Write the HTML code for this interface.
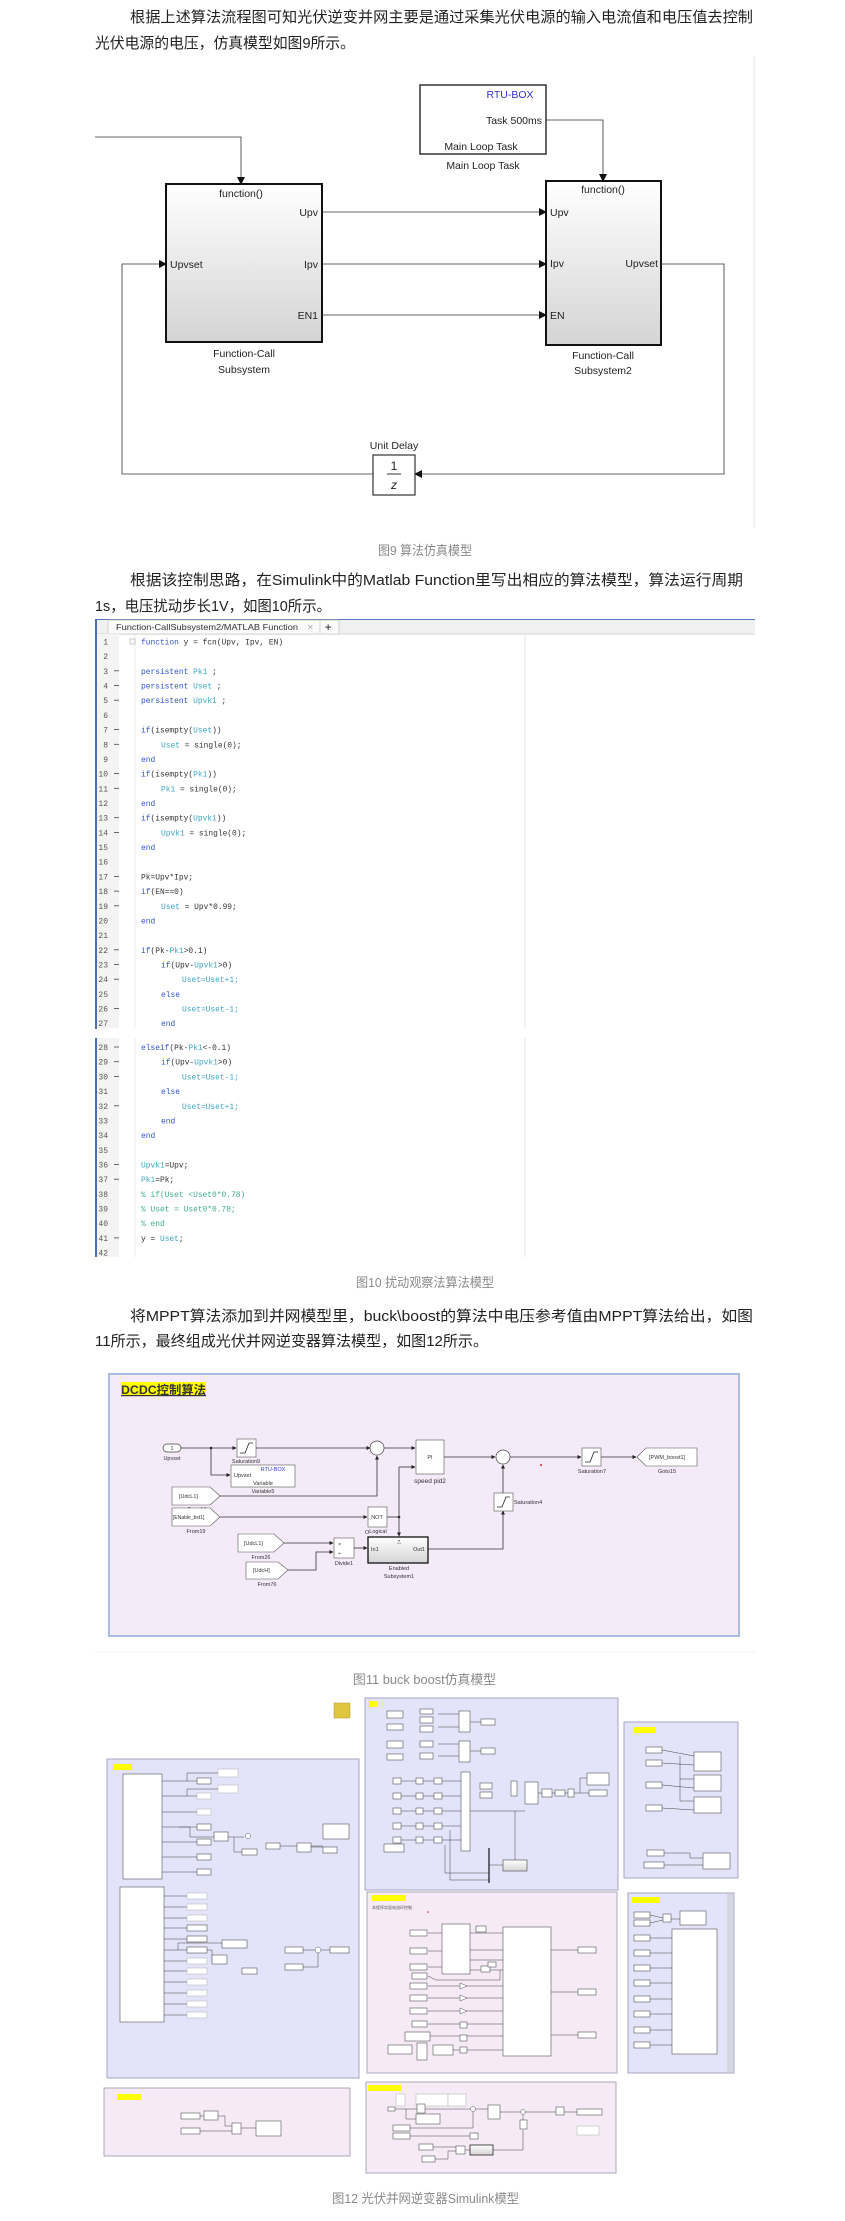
<!DOCTYPE html>
<html><head><meta charset="utf-8"><style>
html,body{margin:0;padding:0;background:#fff;}
svg{display:block;}
.t{font-family:"Liberation Sans","Noto Sans CJK SC",sans-serif;fill:#222;font-size:15px;}
.cap{font-family:"Liberation Sans","Noto Sans CJK SC",sans-serif;fill:#8a8a8a;font-size:13px;}
.s{font-family:"Liberation Sans",sans-serif;fill:#222;font-size:10.5px;}
.m{font-family:"Liberation Mono","Noto Sans CJK SC",monospace;font-size:7.9px;fill:#333;}
.n{font-family:"Liberation Mono",monospace;font-size:8px;fill:#555;}
.k{fill:#3355cc}.v{fill:#3fa6c6}
.tiny{font-family:"Liberation Sans",sans-serif;font-size:5px;fill:#333;}
.tl{font-family:"Liberation Sans",sans-serif;font-size:3px;fill:#666;}
.ln{stroke:#333;stroke-width:.8;fill:none}
.l2{stroke:#444;stroke-width:.5;fill:none}
.b{fill:#fff;stroke:#555;stroke-width:.6}
.bg{fill:#fff;stroke:#bbb;stroke-width:.6}
</style></head><body>
<svg width="845" height="2221" viewBox="0 0 845 2221" xmlns="http://www.w3.org/2000/svg">
<defs>
<marker id="a" markerWidth="8" markerHeight="8" refX="7" refY="4" orient="auto" markerUnits="userSpaceOnUse"><path d="M0,0 L8,4 L0,8 z" fill="#111"/></marker>
<marker id="s" markerWidth="4" markerHeight="4" refX="3.5" refY="2" orient="auto" markerUnits="userSpaceOnUse"><path d="M0,0 L4,2 L0,4 z" fill="#222"/></marker>
<linearGradient id="g" x1="0" y1="0" x2="0" y2="1"><stop offset="0" stop-color="#fff"/><stop offset="1" stop-color="#d4d4d4"/></linearGradient>
</defs>

<!-- Paragraph 1 -->
<text class="t" x="130" y="22" textLength="623" lengthAdjust="spacingAndGlyphs">根据上述算法流程图可知光伏逆变并网主要是通过采集光伏电源的输入电流值和电压值去控制</text>
<text class="t" x="95" y="48" textLength="260" lengthAdjust="spacingAndGlyphs">光伏电源的电压，仿真模型如图9所示。</text>

<!-- Figure 9 -->
<line x1="754" y1="56" x2="754" y2="528" stroke="#e6e6e6" stroke-width="1"/>
<rect x="420" y="85" width="126" height="69" fill="#fff" stroke="#333" stroke-width="1.5"/>
<text class="s" x="510" y="98" text-anchor="middle" fill="#3333cc" style="fill:#3333cc">RTU-BOX</text>
<text class="s" x="542" y="124" text-anchor="end">Task 500ms</text>
<text class="s" x="481" y="150" text-anchor="middle">Main Loop Task</text>
<text class="s" x="483" y="169" text-anchor="middle">Main Loop Task</text>
<polyline class="ln" points="546,120 603,120 603,181" marker-end="url(#a)"/>
<polyline class="ln" points="95,137 241,137 241,184" marker-end="url(#a)"/>

<rect x="166" y="184" width="156" height="158" fill="url(#g)" stroke="#111" stroke-width="2"/>
<text class="s" x="241" y="197" text-anchor="middle">function()</text>
<text class="s" x="318" y="216" text-anchor="end">Upv</text>
<text class="s" x="318" y="268" text-anchor="end">Ipv</text>
<text class="s" x="318" y="319" text-anchor="end">EN1</text>
<text class="s" x="170" y="268">Upvset</text>
<text class="s" x="244" y="357" text-anchor="middle">Function-Call</text>
<text class="s" x="244" y="373" text-anchor="middle">Subsystem</text>

<rect x="546" y="181" width="115" height="164" fill="url(#g)" stroke="#111" stroke-width="2"/>
<text class="s" x="603" y="193" text-anchor="middle">function()</text>
<text class="s" x="550" y="216">Upv</text>
<text class="s" x="550" y="267">Ipv</text>
<text class="s" x="550" y="319">EN</text>
<text class="s" x="658" y="267" text-anchor="end">Upvset</text>
<text class="s" x="603" y="359" text-anchor="middle">Function-Call</text>
<text class="s" x="603" y="374" text-anchor="middle">Subsystem2</text>

<line class="ln" x1="322" y1="212" x2="546" y2="212" marker-end="url(#a)"/>
<line class="ln" x1="322" y1="264" x2="546" y2="264" marker-end="url(#a)"/>
<line class="ln" x1="322" y1="315" x2="546" y2="315" marker-end="url(#a)"/>
<polyline class="ln" points="661,264 724,264 724,474 415,474" marker-end="url(#a)"/>
<polyline class="ln" points="373,474 122,474 122,264 166,264" marker-end="url(#a)"/>
<rect x="373" y="455" width="42" height="40" fill="#fff" stroke="#333" stroke-width="1.2"/>
<text class="s" x="394" y="470" text-anchor="middle" style="font-size:12px">1</text>
<line x1="387" y1="474" x2="401" y2="474" stroke="#333" stroke-width="1"/>
<text class="s" x="394" y="489" text-anchor="middle" style="font-size:12px;font-style:italic">z</text>
<text class="s" x="394" y="449" text-anchor="middle">Unit Delay</text>
<text class="cap" x="378" y="555" textLength="94" lengthAdjust="spacingAndGlyphs">图9 算法仿真模型</text>

<!-- Paragraph 2 -->
<text class="t" x="130" y="585" textLength="613" lengthAdjust="spacingAndGlyphs">根据该控制思路，在Simulink中的Matlab Function里写出相应的算法模型，算法运行周期</text>
<text class="t" x="95" y="611" textLength="236" lengthAdjust="spacingAndGlyphs">1s，电压扰动步长1V，如图10所示。</text>

<!-- Figure 10 code editor -->
<rect x="95" y="619" width="660" height="15" fill="#f0f0f0"/>
<line x1="95" y1="619.5" x2="755" y2="619.5" stroke="#5577bb" stroke-width="1"/>
<line x1="95" y1="634" x2="755" y2="634" stroke="#ccc" stroke-width=".8"/>
<rect x="108" y="620" width="231" height="14" fill="#fafafa" stroke="#bbb" stroke-width=".6"/>
<text x="116" y="630" style="font-family:'Liberation Sans',sans-serif;font-size:8.5px;fill:#333" textLength="182" lengthAdjust="spacingAndGlyphs">Function-CallSubsystem2/MATLAB Function</text>
<text x="307" y="630" style="font-family:'Liberation Sans',sans-serif;font-size:8px;fill:#aaa">✕</text>
<line x1="320" y1="621" x2="320" y2="633" stroke="#bbb" stroke-width=".6"/>
<text x="325" y="631" style="font-family:'Liberation Sans',sans-serif;font-size:11px;fill:#555;font-weight:bold">+</text>
<rect x="96" y="634" width="23" height="394" fill="#f4f4f4"/>
<rect x="96" y="1038" width="23" height="219" fill="#f4f4f4"/>
<line x1="96" y1="619" x2="96" y2="1029" stroke="#4a6fb0" stroke-width="2"/>
<line x1="96" y1="1038" x2="96" y2="1257" stroke="#4a6fb0" stroke-width="2"/>
<line x1="135" y1="634" x2="135" y2="1028" stroke="#ddd" stroke-width=".6"/>
<line x1="135" y1="1038" x2="135" y2="1257" stroke="#ddd" stroke-width=".6"/>
<line x1="525" y1="634" x2="525" y2="1028" stroke="#e0e0e0" stroke-width=".8"/>
<line x1="525" y1="1038" x2="525" y2="1257" stroke="#e0e0e0" stroke-width=".8"/>
<rect x="130" y="639" width="5" height="5" fill="none" stroke="#999" stroke-width=".5"/>

<g class="n" text-anchor="end">
<text x="108" y="644.5">1</text><text x="108" y="659.2">2</text><text x="108" y="673.9">3</text><text x="108" y="688.5">4</text><text x="108" y="703.2">5</text><text x="108" y="717.9">6</text><text x="108" y="732.6">7</text><text x="108" y="747.3">8</text><text x="108" y="762">9</text><text x="108" y="776.6">10</text><text x="108" y="791.3">11</text><text x="108" y="806">12</text><text x="108" y="820.7">13</text><text x="108" y="835.4">14</text><text x="108" y="850">15</text><text x="108" y="864.7">16</text><text x="108" y="879.4">17</text><text x="108" y="894.1">18</text><text x="108" y="908.8">19</text><text x="108" y="923.5">20</text><text x="108" y="938.1">21</text><text x="108" y="952.8">22</text><text x="108" y="967.5">23</text><text x="108" y="982.2">24</text><text x="108" y="996.9">25</text><text x="108" y="1011.5">26</text><text x="108" y="1026.2">27</text>
<text x="108" y="1050">28</text><text x="108" y="1064.7">29</text><text x="108" y="1079.4">30</text><text x="108" y="1094.1">31</text><text x="108" y="1108.8">32</text><text x="108" y="1123.5">33</text><text x="108" y="1138.1">34</text><text x="108" y="1152.8">35</text><text x="108" y="1167.5">36</text><text x="108" y="1182.2">37</text><text x="108" y="1196.9">38</text><text x="108" y="1211.6">39</text><text x="108" y="1226.2">40</text><text x="108" y="1240.9">41</text><text x="108" y="1255.6">42</text>
</g>
<g stroke="#444" stroke-width=".8">
<line x1="114" y1="670.8" x2="119" y2="670.8"/><line x1="114" y1="685.5" x2="119" y2="685.5"/><line x1="114" y1="700.2" x2="119" y2="700.2"/><line x1="114" y1="729.6" x2="119" y2="729.6"/><line x1="114" y1="744.3" x2="119" y2="744.3"/><line x1="114" y1="773.6" x2="119" y2="773.6"/><line x1="114" y1="788.3" x2="119" y2="788.3"/><line x1="114" y1="817.7" x2="119" y2="817.7"/><line x1="114" y1="832.4" x2="119" y2="832.4"/><line x1="114" y1="876.4" x2="119" y2="876.4"/><line x1="114" y1="891.1" x2="119" y2="891.1"/><line x1="114" y1="905.8" x2="119" y2="905.8"/><line x1="114" y1="949.8" x2="119" y2="949.8"/><line x1="114" y1="964.5" x2="119" y2="964.5"/><line x1="114" y1="979.2" x2="119" y2="979.2"/><line x1="114" y1="1008.5" x2="119" y2="1008.5"/>
<line x1="114" y1="1047" x2="119" y2="1047"/><line x1="114" y1="1061.7" x2="119" y2="1061.7"/><line x1="114" y1="1076.4" x2="119" y2="1076.4"/><line x1="114" y1="1105.8" x2="119" y2="1105.8"/><line x1="114" y1="1164.5" x2="119" y2="1164.5"/><line x1="114" y1="1179.2" x2="119" y2="1179.2"/><line x1="114" y1="1237.9" x2="119" y2="1237.9"/>
</g>
<g class="m">
<text x="141" y="644.5"><tspan class="k">function</tspan> y = fcn(Upv, Ipv, EN)</text>
<text x="141" y="673.9"><tspan class="k">persistent</tspan> <tspan class="v">Pk1</tspan> ;</text>
<text x="141" y="688.5"><tspan class="k">persistent</tspan> <tspan class="v">Uset</tspan> ;</text>
<text x="141" y="703.2"><tspan class="k">persistent</tspan> <tspan class="v">Upvk1</tspan> ;</text>
<text x="141" y="732.6"><tspan class="k">if</tspan>(isempty(<tspan class="v">Uset</tspan>))</text>
<text x="161" y="747.3"><tspan class="v">Uset</tspan> = single(0);</text>
<text x="141" y="762" class="k">end</text>
<text x="141" y="776.6"><tspan class="k">if</tspan>(isempty(<tspan class="v">Pk1</tspan>))</text>
<text x="161" y="791.3"><tspan class="v">Pk1</tspan> = single(0);</text>
<text x="141" y="806" class="k">end</text>
<text x="141" y="820.7"><tspan class="k">if</tspan>(isempty(<tspan class="v">Upvk1</tspan>))</text>
<text x="161" y="835.4"><tspan class="v">Upvk1</tspan> = single(0);</text>
<text x="141" y="850" class="k">end</text>
<text x="141" y="879.4">Pk=Upv*Ipv;</text>
<text x="141" y="894.1"><tspan class="k">if</tspan>(EN==0)</text>
<text x="161" y="908.8"><tspan class="v">Uset</tspan> = Upv*0.99;</text>
<text x="141" y="923.5" class="k">end</text>
<text x="141" y="952.8"><tspan class="k">if</tspan>(Pk-<tspan class="v">Pk1</tspan>&gt;0.1)</text>
<text x="161" y="967.5"><tspan class="k">if</tspan>(Upv-<tspan class="v">Upvk1</tspan>&gt;0)</text>
<text x="182" y="982.2" class="v">Uset=Uset+1;</text>
<text x="161" y="996.9" class="k">else</text>
<text x="182" y="1011.5" class="v">Uset=Uset-1;</text>
<text x="161" y="1026.2" class="k">end</text>
<text x="141" y="1050"><tspan class="k">elseif</tspan>(Pk-<tspan class="v">Pk1</tspan>&lt;-0.1)</text>
<text x="161" y="1064.7"><tspan class="k">if</tspan>(Upv-<tspan class="v">Upvk1</tspan>&gt;0)</text>
<text x="182" y="1079.4" class="v">Uset=Uset-1;</text>
<text x="161" y="1094.1" class="k">else</text>
<text x="182" y="1108.8" class="v">Uset=Uset+1;</text>
<text x="161" y="1123.5" class="k">end</text>
<text x="141" y="1138.1" class="k">end</text>
<text x="141" y="1167.5"><tspan class="v">Upvk1</tspan>=Upv;</text>
<text x="141" y="1182.2"><tspan class="v">Pk1</tspan>=Pk;</text>
<text x="141" y="1196.9" fill="#3fae8a" style="fill:#3fae8a">% if(Uset &lt;Uset0*0.78)</text>
<text x="141" y="1211.6" style="fill:#3fae8a">%     Uset = Uset0*0.78;</text>
<text x="141" y="1226.2" style="fill:#3fae8a">% end</text>
<text x="141" y="1240.9">y = <tspan class="v">Uset</tspan>;</text>
</g>
<text class="cap" x="356" y="1287" textLength="138" lengthAdjust="spacingAndGlyphs">图10 扰动观察法算法模型</text>

<!-- Paragraph 3 -->
<text class="t" x="130" y="1321" textLength="623" lengthAdjust="spacingAndGlyphs">将MPPT算法添加到并网模型里，buck\boost的算法中电压参考值由MPPT算法给出，如图</text>
<text class="t" x="95" y="1346" textLength="393" lengthAdjust="spacingAndGlyphs">11所示，最终组成光伏并网逆变器算法模型，如图12所示。</text>

<!-- Figure 11 -->
<rect x="109" y="1374" width="630" height="262" fill="#f5eaf8" stroke="#a9bde0" stroke-width="2"/>
<line x1="95" y1="1652" x2="755" y2="1652" stroke="#f3f3f3" stroke-width="1"/>
<rect x="121" y="1382" width="85" height="14" fill="#ffff00"/>
<text x="121" y="1394" style="font-family:'Liberation Sans','Noto Sans CJK SC',sans-serif;font-size:12px;fill:#333;font-weight:bold;text-decoration:underline" textLength="85" lengthAdjust="spacingAndGlyphs">DCDC控制算法</text>
<g style="font-family:'Liberation Sans',sans-serif;font-size:5.5px;fill:#333">
<rect x="163" y="1444" width="18" height="8" rx="4" fill="#fff" stroke="#444" stroke-width=".7"/>
<text x="172" y="1450" text-anchor="middle">1</text>
<text x="172" y="1460" text-anchor="middle">Upvset</text>
<polyline class="ln" points="181,1448 236,1448" marker-end="url(#s)"/>
<circle cx="211" cy="1448" r="1.3" fill="#222"/>
<polyline class="ln" points="211,1448 211,1475 230,1475" marker-end="url(#s)"/>
<rect x="237" y="1439" width="19" height="18" class="b"/>
<polyline points="240,1453 245,1453 249,1443 253,1443" stroke="#222" stroke-width=".8" fill="none"/>
<text x="246" y="1463" text-anchor="middle">Saturation9</text>
<rect x="231" y="1465" width="64" height="22" class="b"/>
<text x="273" y="1471" text-anchor="middle" style="fill:#3333cc">RTU-BOX</text>
<text x="234" y="1477">Upvset</text>
<text x="263" y="1485" text-anchor="middle">Variable</text>
<text x="263" y="1493" text-anchor="middle">Variable5</text>
<polyline class="ln" points="256,1448 370,1448" marker-end="url(#s)"/>
<circle cx="377" cy="1448" r="7" fill="#fff" stroke="#444" stroke-width=".7"/>
<polyline class="ln" points="384,1448 415,1448" marker-end="url(#s)"/>
<rect x="416" y="1440" width="28" height="34" class="b"/>
<text x="430" y="1459" text-anchor="middle">PI</text>
<text x="430" y="1483" text-anchor="middle" style="font-size:6.5px">speed pid2</text>
<path d="M172,1487 L210,1487 L220,1496 L210,1505 L172,1505 Z" class="b"/>
<text x="179" y="1498">[UdcL1]</text>
<text x="197" y="1511" text-anchor="middle">From14</text>
<polyline class="ln" points="220,1496 377,1496 377,1456" marker-end="url(#s)"/>
<path d="M172,1508 L210,1508 L220,1517 L210,1526 L172,1526 Z" class="b"/>
<text x="173" y="1519" style="font-size:5px">[ENable_bst1]</text>
<text x="196" y="1533" text-anchor="middle">From19</text>
<polyline class="ln" points="220,1517 367,1517" marker-end="url(#s)"/>
<rect x="368" y="1507" width="19" height="20" class="b"/>
<text x="377" y="1519" text-anchor="middle">NOT</text>
<text x="378" y="1533" text-anchor="middle">Logical</text>
<polyline class="ln" points="387,1517 399,1517"/>
<circle cx="399" cy="1517" r="1.3" fill="#222"/>
<polyline class="ln" points="399,1467 399,1536" marker-end="url(#s)"/>
<polyline class="ln" points="399,1467 415,1467" marker-end="url(#s)"/>
<path d="M238,1534 L274,1534 L284,1543 L274,1552 L238,1552 Z" class="b"/>
<text x="244" y="1545">[UdcL1]</text>
<text x="261" y="1559" text-anchor="middle">From26</text>
<path d="M246,1562 L278,1562 L288,1570 L278,1579 L246,1579 Z" class="b"/>
<text x="253" y="1572">[UdcH]</text>
<text x="267" y="1586" text-anchor="middle">From76</text>
<polyline class="ln" points="284,1543 333,1543" marker-end="url(#s)"/>
<polyline class="ln" points="288,1570 316,1570 316,1552 333,1552" marker-end="url(#s)"/>
<rect x="334" y="1538" width="20" height="20" class="b"/>
<text x="338" y="1546">×</text><text x="338" y="1555">÷</text>
<text x="344" y="1565" text-anchor="middle">Divide1</text>
<polyline class="ln" points="354,1548 367,1548" marker-end="url(#s)"/>
<rect x="368" y="1537" width="60" height="26" fill="url(#g)" stroke="#111" stroke-width="1.3"/>
<text x="371" y="1551">In1</text><text x="425" y="1551" text-anchor="end">Out1</text>
<text x="399" y="1544" text-anchor="middle">⎍</text>
<text x="365" y="1534">O</text>
<text x="399" y="1570" text-anchor="middle">Enabled</text>
<text x="399" y="1578" text-anchor="middle">Subsystem1</text>
<polyline class="ln" points="428,1549 503,1549 503,1511" marker-end="url(#s)"/>
<rect x="494" y="1493" width="19" height="18" class="b"/>
<polyline points="497,1507 502,1507 506,1497 510,1497" stroke="#222" stroke-width=".8" fill="none"/>
<text x="514" y="1504">Saturation4</text>
<polyline class="ln" points="503,1493 503,1465" marker-end="url(#s)"/>
<polyline class="ln" points="444,1457 495,1457" marker-end="url(#s)"/>
<circle cx="503" cy="1457" r="7" fill="#fff" stroke="#444" stroke-width=".7"/>
<polyline class="ln" points="510,1457 581,1457" marker-end="url(#s)"/>
<circle cx="541" cy="1465" r="1" fill="#e02020"/>
<rect x="582" y="1448" width="19" height="18" class="b"/>
<polyline points="585,1462 590,1462 594,1452 598,1452" stroke="#222" stroke-width=".8" fill="none"/>
<text x="592" y="1473" text-anchor="middle">Saturation7</text>
<polyline class="ln" points="601,1457 636,1457" marker-end="url(#s)"/>
<path d="M637,1457 L646,1448 L697,1448 L697,1466 L646,1466 Z" class="b"/>
<text x="649" y="1459">[PWM_boost1]</text>
<text x="667" y="1473" text-anchor="middle">Goto15</text>
</g>
<text class="cap" x="353" y="1684" textLength="143" lengthAdjust="spacingAndGlyphs">图11 buck boost仿真模型</text>

<!-- Figure 12 -->
<rect x="334" y="1703" width="16" height="15" fill="#e0c440" stroke="#b09a30" stroke-width=".5"/>
<!-- 保护 -->
<rect x="365" y="1698" width="253" height="192" fill="#e3e3fa" stroke="#a6a6c0" stroke-width="1"/>
<rect x="369" y="1701" width="9" height="6" fill="#ffff00"/>
<!-- PWM -->
<rect x="624" y="1722" width="114" height="156" fill="#e3e3fa" stroke="#a6a6c0" stroke-width="1"/>
<rect x="634" y="1727" width="22" height="6" fill="#ffff00"/>
<!-- 采样输入 -->
<rect x="107" y="1759" width="252" height="319" fill="#e3e3fa" stroke="#a6a6c0" stroke-width="1"/>
<rect x="113" y="1764" width="19" height="6" fill="#ffff00"/>
<!-- 逆变 -->
<rect x="367" y="1892" width="250" height="181" fill="#f5eaf6" stroke="#a8a8b8" stroke-width="1"/>
<rect x="372" y="1895" width="34" height="6" fill="#ffff00"/>
<!-- right -->
<rect x="628" y="1893" width="106" height="180" fill="#e3e3fa" stroke="#a6a6c0" stroke-width="1"/>
<rect x="727" y="1894" width="6" height="178" fill="#d6d6e2"/>
<rect x="632" y="1897" width="28" height="6" fill="#ffff00"/>
<!-- bottom left -->
<rect x="104" y="2088" width="246" height="68" fill="#f5eaf6" stroke="#a8a8b8" stroke-width="1"/>
<rect x="117" y="2094" width="24" height="6" fill="#ffff00"/>
<!-- bottom DCDC -->
<rect x="366" y="2082" width="250" height="91" fill="#f5eaf6" stroke="#a8a8b8" stroke-width="1"/>
<rect x="368" y="2085" width="33" height="6" fill="#ffff00"/>

<g>
<!-- 采样输入 contents -->
<rect x="123" y="1774" width="39" height="105" class="b"/>
<rect x="120" y="1887" width="44" height="135" class="b"/>
<g class="l2">
<line x1="162" y1="1781" x2="197" y2="1781"/><line x1="162" y1="1796" x2="197" y2="1796"/><line x1="162" y1="1812" x2="197" y2="1812"/><line x1="162" y1="1827" x2="197" y2="1827"/><line x1="162" y1="1842" x2="197" y2="1842"/><line x1="162" y1="1857" x2="197" y2="1857"/><line x1="162" y1="1872" x2="197" y2="1872"/>
<line x1="164" y1="1896" x2="187" y2="1896"/><line x1="164" y1="1907" x2="187" y2="1907"/><line x1="164" y1="1918" x2="187" y2="1918"/><line x1="164" y1="1928" x2="187" y2="1928"/><line x1="164" y1="1939" x2="187" y2="1939"/><line x1="164" y1="1950" x2="187" y2="1950"/><line x1="164" y1="1961" x2="187" y2="1961"/><line x1="164" y1="1971" x2="187" y2="1971"/><line x1="164" y1="1982" x2="187" y2="1982"/><line x1="164" y1="1993" x2="187" y2="1993"/><line x1="164" y1="2004" x2="187" y2="2004"/><line x1="164" y1="2015" x2="187" y2="2015"/>
<polyline points="187,1781 187,1773 218,1773"/><polyline points="187,1796 187,1789 218,1789"/>
<polyline points="179,1827 190,1827 190,1837 214,1837"/><line x1="228" y1="1837" x2="244" y2="1837"/><polyline points="234,1837 234,1852 242,1852"/>
<line x1="280" y1="1846" x2="297" y2="1846"/><line x1="311" y1="1846" x2="323" y2="1846"/><line x1="311" y1="1847" x2="323" y2="1847"/>
<polyline points="178,1950 178,1943 222,1943"/><polyline points="202,1950 212,1950 212,1962"/>
<line x1="303" y1="1950" x2="330" y2="1950"/><polyline points="293,1967 318,1967 318,1950"/>
</g>
<g class="b">
<rect x="197" y="1778" width="14" height="6"/><rect x="197" y="1824" width="14" height="6"/><rect x="197" y="1839" width="14" height="6"/><rect x="197" y="1854" width="14" height="6"/><rect x="197" y="1869" width="14" height="6"/>
<rect x="214" y="1832" width="14" height="9"/><rect x="242" y="1849" width="15" height="6"/><rect x="266" y="1843" width="14" height="6"/><rect x="297" y="1843" width="14" height="9"/>
<rect x="323" y="1824" width="26" height="15"/><rect x="323" y="1847" width="14" height="6"/>
<rect x="187" y="1925" width="20" height="6"/><rect x="187" y="1936" width="20" height="6"/><rect x="187" y="1947" width="20" height="6"/>
<rect x="222" y="1940" width="25" height="8"/><rect x="212" y="1955" width="15" height="9"/><rect x="242" y="1968" width="15" height="6"/>
<rect x="285" y="1947" width="18" height="6"/><rect x="285" y="1964" width="18" height="6"/><rect x="330" y="1947" width="19" height="6"/>
</g>
<g class="bg">
<rect x="197" y="1809" width="14" height="6"/><rect x="197" y="1793" width="14" height="6"/><rect x="218" y="1769" width="20" height="8"/><rect x="218" y="1785" width="20" height="8"/>
<rect x="187" y="1893" width="20" height="6"/><rect x="187" y="1904" width="20" height="6"/><rect x="187" y="1915" width="20" height="6"/><rect x="187" y="1958" width="20" height="6"/><rect x="187" y="1968" width="20" height="6"/><rect x="187" y="1979" width="20" height="6"/><rect x="187" y="1990" width="20" height="6"/><rect x="187" y="2001" width="20" height="6"/><rect x="187" y="2012" width="20" height="6"/>
</g>
<circle cx="318" cy="1950" r="3" fill="#fff" stroke="#555" stroke-width=".5"/>
<circle cx="248" cy="1836" r="2.5" fill="#fff" stroke="#555" stroke-width=".5"/>

<!-- 保护 contents -->
<g class="l2">
<line x1="401" y1="1781" x2="416" y2="1781"/><line x1="401" y1="1796" x2="416" y2="1796"/><line x1="401" y1="1811" x2="416" y2="1811"/><line x1="401" y1="1826" x2="416" y2="1826"/><line x1="401" y1="1840" x2="416" y2="1840"/>
<line x1="423" y1="1781" x2="434" y2="1781"/><line x1="423" y1="1796" x2="434" y2="1796"/><line x1="423" y1="1811" x2="434" y2="1811"/><line x1="423" y1="1826" x2="434" y2="1826"/><line x1="423" y1="1840" x2="434" y2="1840"/>
<line x1="442" y1="1781" x2="461" y2="1781"/><line x1="442" y1="1796" x2="461" y2="1796"/><line x1="442" y1="1811" x2="461" y2="1811"/><line x1="442" y1="1826" x2="461" y2="1826"/><line x1="442" y1="1840" x2="461" y2="1840"/>
<line x1="470" y1="1811" x2="525" y2="1811"/><line x1="515" y1="1811" x2="515" y2="1863"/>
<line x1="438" y1="1714" x2="459" y2="1714"/><line x1="438" y1="1727" x2="459" y2="1727"/><line x1="470" y1="1722" x2="481" y2="1722"/>
<line x1="438" y1="1744" x2="459" y2="1744"/><line x1="438" y1="1756" x2="459" y2="1756"/><line x1="470" y1="1751" x2="481" y2="1751"/>
<line x1="538" y1="1793" x2="589" y2="1793"/><polyline points="580,1793 580,1778 587,1778"/>
<polyline points="450,1830 450,1880 489,1880"/><polyline points="445,1845 445,1873 489,1873"/><line x1="489" y1="1865" x2="503" y2="1865"/>
</g>
<line x1="489" y1="1848" x2="489" y2="1883" stroke="#222" stroke-width="1.3"/>
<g class="b">
<rect x="387" y="1711" width="16" height="7"/><rect x="420" y="1709" width="13" height="5"/><rect x="420" y="1717" width="13" height="6"/><rect x="420" y="1726" width="13" height="6"/><rect x="387" y="1724" width="16" height="6"/>
<rect x="459" y="1711" width="11" height="21"/><rect x="481" y="1719" width="14" height="6"/>
<rect x="387" y="1741" width="16" height="7"/><rect x="420" y="1741" width="13" height="6"/><rect x="420" y="1753" width="13" height="6"/><rect x="387" y="1754" width="16" height="6"/>
<rect x="459" y="1741" width="11" height="21"/><rect x="481" y="1748" width="14" height="6"/>
<rect x="393" y="1778" width="8" height="6"/><rect x="393" y="1793" width="8" height="6"/><rect x="393" y="1808" width="8" height="6"/><rect x="393" y="1823" width="8" height="6"/><rect x="393" y="1837" width="8" height="6"/><rect x="384" y="1844" width="20" height="8"/>
<rect x="416" y="1778" width="7" height="6"/><rect x="416" y="1793" width="7" height="6"/><rect x="416" y="1808" width="7" height="6"/><rect x="416" y="1823" width="7" height="6"/><rect x="416" y="1837" width="7" height="6"/>
<rect x="434" y="1778" width="8" height="6"/><rect x="434" y="1793" width="8" height="6"/><rect x="434" y="1808" width="8" height="6"/><rect x="434" y="1823" width="8" height="6"/><rect x="434" y="1837" width="8" height="6"/>
<rect x="461" y="1772" width="9" height="79"/>
<rect x="480" y="1783" width="12" height="6"/><rect x="480" y="1792" width="12" height="6"/><rect x="511" y="1781" width="6" height="15"/>
<rect x="525" y="1782" width="13" height="22"/><rect x="542" y="1789" width="10" height="8"/><rect x="555" y="1790" width="10" height="6"/><rect x="568" y="1789" width="6" height="8"/>
<rect x="587" y="1773" width="22" height="12"/><rect x="589" y="1790" width="18" height="6"/>
</g>
<rect x="503" y="1860" width="24" height="11" fill="url(#g)" stroke="#444" stroke-width=".6"/>

<!-- PWM contents -->
<g class="l2">
<line x1="662" y1="1750" x2="694" y2="1756"/><line x1="662" y1="1763" x2="694" y2="1765"/><line x1="662" y1="1785" x2="694" y2="1788"/><line x1="662" y1="1808" x2="694" y2="1810"/>
<line x1="680" y1="1756" x2="680" y2="1801"/><line x1="680" y1="1779" x2="694" y2="1779"/><line x1="680" y1="1801" x2="694" y2="1801"/>
<polyline points="664,1853 690,1853 690,1858 703,1858"/><line x1="664" y1="1865" x2="703" y2="1865"/>
</g>
<g class="b">
<rect x="646" y="1747" width="16" height="6"/><rect x="646" y="1760" width="16" height="6"/><rect x="646" y="1782" width="16" height="6"/><rect x="646" y="1805" width="16" height="6"/>
<rect x="694" y="1752" width="27" height="19"/><rect x="694" y="1775" width="27" height="16"/><rect x="694" y="1797" width="27" height="16"/>
<rect x="647" y="1850" width="17" height="6"/><rect x="644" y="1862" width="20" height="6"/><rect x="703" y="1853" width="27" height="16"/>
</g>

<!-- 逆变 contents -->
<text x="372" y="1909" style="font-family:'Noto Sans CJK SC',sans-serif;font-size:4px;fill:#555">本程序实现电流环控制</text>
<circle cx="428" cy="1912" r=".8" fill="#e02020"/>
<g class="l2">
<line x1="428" y1="1933" x2="442" y2="1933"/><line x1="428" y1="1951" x2="442" y2="1951"/><line x1="428" y1="1967" x2="442" y2="1967"/>
<line x1="470" y1="1933" x2="503" y2="1933"/><line x1="470" y1="1950" x2="503" y2="1950"/><line x1="470" y1="1960" x2="503" y2="1960"/><line x1="470" y1="1970" x2="503" y2="1970"/>
<line x1="428" y1="1986" x2="503" y2="1986"/><line x1="428" y1="1998" x2="503" y2="1998"/><line x1="428" y1="2011" x2="503" y2="2011"/><line x1="428" y1="2024" x2="503" y2="2024"/><line x1="428" y1="2036" x2="503" y2="2036"/><line x1="453" y1="2050" x2="503" y2="2050"/>
<line x1="551" y1="1950" x2="578" y2="1950"/><line x1="551" y1="1992" x2="578" y2="1992"/><line x1="551" y1="2035" x2="578" y2="2035"/>
<polyline points="428,1976 436,1980 500,1980 500,1970"/>
</g>
<g class="b">
<rect x="410" y="1930" width="17" height="6"/><rect x="410" y="1948" width="17" height="6"/><rect x="410" y="1964" width="17" height="6"/><rect x="412" y="1973" width="15" height="6"/><rect x="410" y="1983" width="17" height="6"/><rect x="410" y="1995" width="17" height="6"/><rect x="410" y="2008" width="17" height="6"/><rect x="412" y="2021" width="15" height="6"/>
<rect x="442" y="1924" width="28" height="50"/><rect x="503" y="1927" width="48" height="129"/>
<rect x="476" y="1926" width="10" height="6"/><rect x="481" y="1966" width="9" height="6"/><rect x="488" y="1962" width="8" height="5"/>
<rect x="405" y="2032" width="25" height="9"/><rect x="388" y="2045" width="24" height="9"/><rect x="417" y="2043" width="10" height="17"/><rect x="433" y="2045" width="20" height="10"/>
<rect x="460" y="2022" width="7" height="6"/><rect x="460" y="2035" width="7" height="6"/><rect x="460" y="2047" width="7" height="6"/>
<rect x="578" y="1947" width="18" height="6"/><rect x="578" y="1989" width="18" height="6"/><rect x="578" y="2032" width="18" height="6"/>
</g>
<g fill="#fff" stroke="#555" stroke-width=".5"><path d="M460,1983 L467,1986 L460,1989 Z"/><path d="M460,1995 L467,1998 L460,2001 Z"/><path d="M460,2008 L467,2011 L460,2014 Z"/></g>

<!-- right box contents -->
<g class="l2">
<line x1="650" y1="1915" x2="663" y2="1918"/><line x1="650" y1="1923" x2="663" y2="1920"/><line x1="671" y1="1919" x2="680" y2="1919"/>
<line x1="650" y1="1938" x2="672" y2="1938"/><line x1="650" y1="1953" x2="672" y2="1953"/><line x1="650" y1="1968" x2="672" y2="1968"/><line x1="650" y1="1983" x2="672" y2="1983"/><line x1="650" y1="1999" x2="672" y2="1999"/><line x1="650" y1="2014" x2="672" y2="2014"/><line x1="650" y1="2030" x2="672" y2="2030"/><line x1="650" y1="2045" x2="672" y2="2045"/>
</g>
<g class="b">
<rect x="634" y="1912" width="16" height="6"/><rect x="634" y="1920" width="16" height="6"/><rect x="663" y="1914" width="8" height="8"/><rect x="680" y="1911" width="26" height="14"/>
<rect x="672" y="1929" width="45" height="125"/>
<rect x="634" y="1935" width="16" height="6"/><rect x="634" y="1950" width="16" height="6"/><rect x="634" y="1965" width="16" height="6"/><rect x="634" y="1980" width="16" height="6"/><rect x="634" y="1996" width="16" height="6"/><rect x="634" y="2011" width="16" height="6"/><rect x="634" y="2027" width="16" height="6"/><rect x="634" y="2042" width="16" height="6"/>
</g>

<!-- bottom-left contents -->
<g class="l2"><line x1="200" y1="2116" x2="204" y2="2116"/><polyline points="218,2116 225,2116 225,2126 232,2126"/><polyline points="200,2131 232,2131"/><line x1="241" y1="2128" x2="256" y2="2128"/></g>
<g class="b"><rect x="181" y="2113" width="19" height="6"/><rect x="181" y="2128" width="19" height="6"/><rect x="204" y="2111" width="14" height="9"/><rect x="232" y="2123" width="9" height="11"/><rect x="256" y="2121" width="25" height="15"/></g>

<!-- bottom DCDC contents -->
<g class="bg"><rect x="396" y="2094" width="9" height="12"/><rect x="416" y="2094" width="32" height="12"/><rect x="448" y="2094" width="18" height="12"/><rect x="577" y="2126" width="22" height="9"/></g>
<g class="l2">
<line x1="395" y1="2109" x2="473" y2="2109"/><polyline points="406,2109 406,2119 416,2119"/><line x1="473" y1="2109" x2="488" y2="2109"/>
<line x1="500" y1="2112" x2="523" y2="2112"/><line x1="523" y1="2112" x2="577" y2="2112"/>
<polyline points="410,2128 473,2128 473,2112"/><line x1="410" y1="2136" x2="470" y2="2136"/>
<polyline points="433,2147 456,2147"/><polyline points="435,2159 448,2159 448,2151 456,2151"/>
<line x1="465" y1="2150" x2="470" y2="2150"/><polyline points="493,2150 523,2150 523,2130"/><line x1="523" y1="2120" x2="523" y2="2115"/>
</g>
<g class="b">
<rect x="388" y="2107" width="7" height="4"/><rect x="417" y="2104" width="8" height="9"/><rect x="416" y="2114" width="24" height="10"/>
<rect x="488" y="2105" width="12" height="14"/><rect x="556" y="2107" width="8" height="8"/><rect x="577" y="2109" width="25" height="6"/>
<rect x="393" y="2125" width="17" height="6"/><rect x="393" y="2133" width="17" height="6"/><rect x="470" y="2133" width="8" height="6"/>
<rect x="419" y="2144" width="14" height="6"/><rect x="422" y="2156" width="13" height="6"/><rect x="456" y="2146" width="9" height="8"/>
<rect x="520" y="2120" width="7" height="9"/>
</g>
<rect x="470" y="2145" width="23" height="10" fill="url(#g)" stroke="#222" stroke-width=".8"/>
<circle cx="473" cy="2109" r="2.5" fill="#fff" stroke="#555" stroke-width=".5"/>
<circle cx="523" cy="2112" r="2.5" fill="#fff" stroke="#555" stroke-width=".5"/>
</g>
<text class="cap" x="332" y="2203" textLength="187" lengthAdjust="spacingAndGlyphs">图12 光伏并网逆变器Simulink模型</text>
</svg>
</body></html>
